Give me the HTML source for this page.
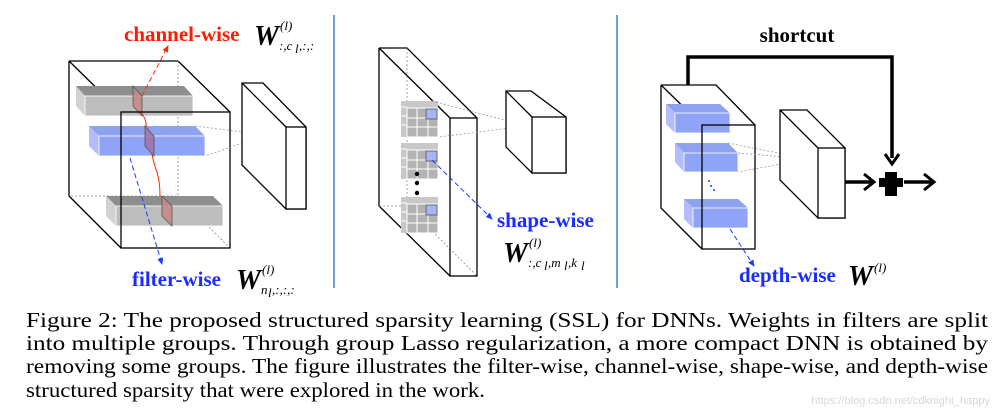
<!DOCTYPE html>
<html><head><meta charset="utf-8"><style>
html,body{margin:0;padding:0;background:#fff;}
svg{display:block;}
.cap{font-family:"Liberation Serif",serif;font-size:21.5px;fill:#000;}
.lbl{font-family:"Liberation Serif",serif;font-weight:bold;font-size:21px;}
.w{font-family:"Liberation Serif",serif;font-weight:bold;font-style:italic;font-size:28px;}
.sub{font-family:"Liberation Serif",serif;font-style:italic;font-size:13px;}
</style></head><body>
<svg width="998" height="415" viewBox="0 0 998 415" xmlns="http://www.w3.org/2000/svg">
<defs>
<marker id="ar" markerWidth="8" markerHeight="8" refX="6" refY="4" orient="auto"><path d="M0,1 L7,4 L0,7 z" fill="#ff2a00"/></marker>
<marker id="ab" markerWidth="8" markerHeight="8" refX="6" refY="4" orient="auto"><path d="M0,1 L7,4 L0,7 z" fill="#1a3cff"/></marker>
</defs>

<!-- Panel 1 -->
<g stroke="#000" stroke-width="1.3" fill="none">
<path d="M69,61 H178 M69,61 V196 M69,61 L121,112 M178,61 L230,112 M69,196 L121,248"/>
</g>
<g stroke="#888" stroke-width="0.8" stroke-dasharray="2,2" fill="none">
<path d="M178,61 V196 H69 M178,196 L230,248"/>
</g>
<polygon points="76,86 184,86 193,96 85,96" fill="#8e8e8e"/>
<polygon points="76,86 85,96 85,116 76,106" fill="#d2d2d2"/>
<rect x="85" y="96" width="108" height="20" fill="#bdbdbd" stroke="#fff" stroke-width="0.8"/>
<polygon points="89,126 195,126 205,136 99,136" fill="#8fa2f0"/>
<polygon points="89,126 99,136 99,156 89,146" fill="#b3bdfc"/>
<rect x="99" y="136" width="106" height="20" fill="#8fa3f7" stroke="#fff" stroke-width="0.8"/>
<polygon points="106,196 213,196 223,206 116,206" fill="#8e8e8e"/>
<polygon points="106,196 116,206 116,226 106,216" fill="#d2d2d2"/>
<rect x="116" y="206" width="107" height="20" fill="#bdbdbd" stroke="#fff" stroke-width="0.8"/>
<g stroke="#555" stroke-width="0.8">
<polygon points="133,86 142,96 142,116 133,106" fill="#c98686" fill-opacity="0.85"/>
<polygon points="145,126 154,136 154,156 145,146" fill="#a374a8" fill-opacity="0.9"/>
<polygon points="162,196 172,206 172,226 162,216" fill="#c98686" fill-opacity="0.85"/>
</g>
<path d="M141,112 Q147,120 146,128 M152,154 Q154,165 157,172 Q160,182 160,196" stroke="#ff2a00" stroke-width="1" fill="none"/>
<line x1="142" y1="96" x2="168" y2="46" stroke="#ff2a00" stroke-width="1" stroke-dasharray="5,3" marker-end="url(#ar)"/>
<line x1="130" y1="158" x2="162" y2="264" stroke="#1a3cff" stroke-width="1" stroke-dasharray="5,3" marker-end="url(#ab)"/>
<rect x="121" y="112" width="109" height="136" fill="none" stroke="#000" stroke-width="1.3"/>
<path d="M195,126 L266,135 L205,156" fill="none" stroke="#999" stroke-width="0.8" stroke-dasharray="2,2"/>
<g stroke="#000" stroke-width="1.3" fill="#fff">
<polygon points="242,83 263,83 306,127 306,209 286,209 242,165"/>
<rect x="286" y="127" width="20" height="82"/>
<path d="M242,83 L286,127" fill="none"/>
</g>
<text class="lbl" x="124" y="41" fill="#ff1a00">channel-wise</text>
<text class="w" x="254" y="45">W</text><text class="sub" x="280" y="30">(l)</text><text class="sub" x="279" y="50">:,c</text><text class="sub" x="295" y="53" font-size="9">l</text><text class="sub" x="299" y="50">,:,:</text>
<text class="lbl" x="132" y="286" fill="#1a2cff">filter-wise</text>
<text class="w" x="236" y="289">W</text><text class="sub" x="262" y="274">(l)</text><text class="sub" x="261" y="294">n</text><text class="sub" x="268" y="297" font-size="9">l</text><text class="sub" x="272" y="294">,:,:,:</text>

<line x1="334" y1="15" x2="334" y2="288" stroke="#6fa0d0" stroke-width="2"/>

<!-- Panel 2 -->
<g stroke="#000" stroke-width="1.3" fill="none"><path d="M379,48 H407 L477,118 M379,48 V206 L450,276 M379,48 L450,118"/></g>
<g stroke="#888" stroke-width="0.8" stroke-dasharray="2,2" fill="none"><path d="M407,48 V206 H379 M407,206 L477,276"/></g>
<g id="grid">
<rect x="401" y="101" width="37" height="36" fill="#c8c8c8"/>
<rect x="407" y="108" width="31" height="29" fill="#b3b3b3" stroke="#fff" stroke-width="1"/>
<path d="M417,108 V137 M428,108 V137 M407,118 H438 M407,127 H438 M401,107 H407 M401,116 H407 M401,125 H407" stroke="#fff" stroke-width="1"/>
<rect x="426" y="109" width="11" height="10" fill="#a9b4f2" stroke="#556" stroke-width="0.8"/>
</g>
<use href="#grid" y="42"/>
<use href="#grid" y="96"/>
<circle cx="417" cy="174" r="2.2" fill="#000"/><circle cx="417" cy="183" r="2.2" fill="#000"/><circle cx="417" cy="193" r="2.2" fill="#000"/>
<rect x="450" y="118" width="27" height="158" fill="none" stroke="#000" stroke-width="1.3"/>
<path d="M432,101 L527,126 L438,137" fill="none" stroke="#999" stroke-width="0.8" stroke-dasharray="2,2"/>
<line x1="432" y1="160" x2="492" y2="219" stroke="#1a3cff" stroke-width="1" stroke-dasharray="5,3" marker-end="url(#ab)"/>
<g stroke="#000" stroke-width="1.3" fill="#fff">
<polygon points="506,91 531,91 566,117 566,173 532,173 506,147"/>
<rect x="532" y="117" width="34" height="56"/>
<path d="M506,91 L532,117" fill="none"/>
</g>
<text class="lbl" x="497" y="227" fill="#1a2cff">shape-wise</text>
<text class="w" x="503" y="262">W</text><text class="sub" x="529" y="247">(l)</text><text class="sub" x="528" y="267">:,c</text><text class="sub" x="544" y="270" font-size="9">l</text><text class="sub" x="548" y="267">,m</text><text class="sub" x="564" y="270" font-size="9">l</text><text class="sub" x="568" y="267">,k</text><text class="sub" x="581" y="270" font-size="9">l</text>

<line x1="617" y1="15" x2="617" y2="288" stroke="#6fa0d0" stroke-width="2"/>

<!-- Panel 3 -->
<text x="797" y="42" text-anchor="middle" font-family="Liberation Serif,serif" font-weight="bold" font-size="21">shortcut</text>
<path d="M688,85 V57 H892 V158" fill="none" stroke="#000" stroke-width="3.5"/>
<path d="M885,154 L892,164 L899,154" fill="none" stroke="#000" stroke-width="3"/>
<g stroke="#000" stroke-width="1.3" fill="none"><path d="M661,85 H716 L755,125 M661,85 V208 L702,249 M661,85 L702,125"/></g>
<g>
<polygon points="666,104 720,104 730,113 675,113" fill="#8fa2f0"/><polygon points="666,104 675,113 675,133 666,124" fill="#b3bdfc"/><rect x="675" y="113" width="55" height="20" fill="#8fa3f7" stroke="#fff" stroke-width="0.8"/>
<polygon points="675,143 728,143 738,153 684,153" fill="#8fa2f0"/><polygon points="675,143 684,153 684,172 675,162" fill="#b3bdfc"/><rect x="684" y="153" width="54" height="19" fill="#8fa3f7" stroke="#fff" stroke-width="0.8"/>
<polygon points="684,199 738,199 748,208 693,208" fill="#8fa2f0"/><polygon points="684,199 693,208 693,228 684,219" fill="#b3bdfc"/><rect x="693" y="208" width="55" height="20" fill="#8fa3f7" stroke="#fff" stroke-width="0.8"/>
</g>
<circle cx="709" cy="181" r="1" fill="#1a3cff"/><circle cx="711" cy="186" r="1" fill="#1a3cff"/><circle cx="714" cy="190" r="1" fill="#1a3cff"/>
<rect x="702" y="125" width="53" height="124" fill="none" stroke="#000" stroke-width="1.3"/>
<path d="M728,143 L808,159 L738,172 M738,153 L808,159" fill="none" stroke="#999" stroke-width="0.8" stroke-dasharray="2,2"/>
<line x1="730" y1="229" x2="754" y2="266" stroke="#1a3cff" stroke-width="1" stroke-dasharray="5,3" marker-end="url(#ab)"/>
<g stroke="#000" stroke-width="1.3" fill="#fff">
<polygon points="780,110 807,110 845,148 845,218 818,218 780,180"/>
<rect x="818" y="148" width="27" height="70"/>
<path d="M780,110 L818,148" fill="none"/>
</g>
<path d="M845,182 H872" stroke="#000" stroke-width="3.5"/><path d="M864,174 L874,182 L864,190" fill="none" stroke="#000" stroke-width="3"/>
<path d="M885,172 H897 V178 H903 V187 H897 V196 H885 V187 H879 V178 H885 Z" fill="#000"/>
<path d="M904,182 H932" stroke="#000" stroke-width="3.5"/><path d="M924,174 L934,182 L924,190" fill="none" stroke="#000" stroke-width="3"/>
<text class="lbl" x="739" y="282" fill="#1a2cff">depth-wise</text>
<text class="w" x="848" y="285">W</text><text class="sub" x="874" y="272">(l)</text>

<!-- caption -->
<text class="cap" x="26" y="327" textLength="962" lengthAdjust="spacingAndGlyphs">Figure 2: The proposed structured sparsity learning (SSL) for DNNs. Weights in filters are split</text>
<text class="cap" x="26" y="350" textLength="962" lengthAdjust="spacingAndGlyphs">into multiple groups. Through group Lasso regularization, a more compact DNN is obtained by</text>
<text class="cap" x="26" y="373" textLength="962" lengthAdjust="spacingAndGlyphs">removing some groups. The figure illustrates the filter-wise, channel-wise, shape-wise, and depth-wise</text>
<text class="cap" x="26" y="397" textLength="459" lengthAdjust="spacingAndGlyphs">structured sparsity that were explored in the work.</text>
<text x="990" y="404" text-anchor="end" font-family="Liberation Sans,sans-serif" font-size="11" fill="#d8d8d8">https://blog.csdn.net/cdknight_happy</text>
</svg>
</body></html>
